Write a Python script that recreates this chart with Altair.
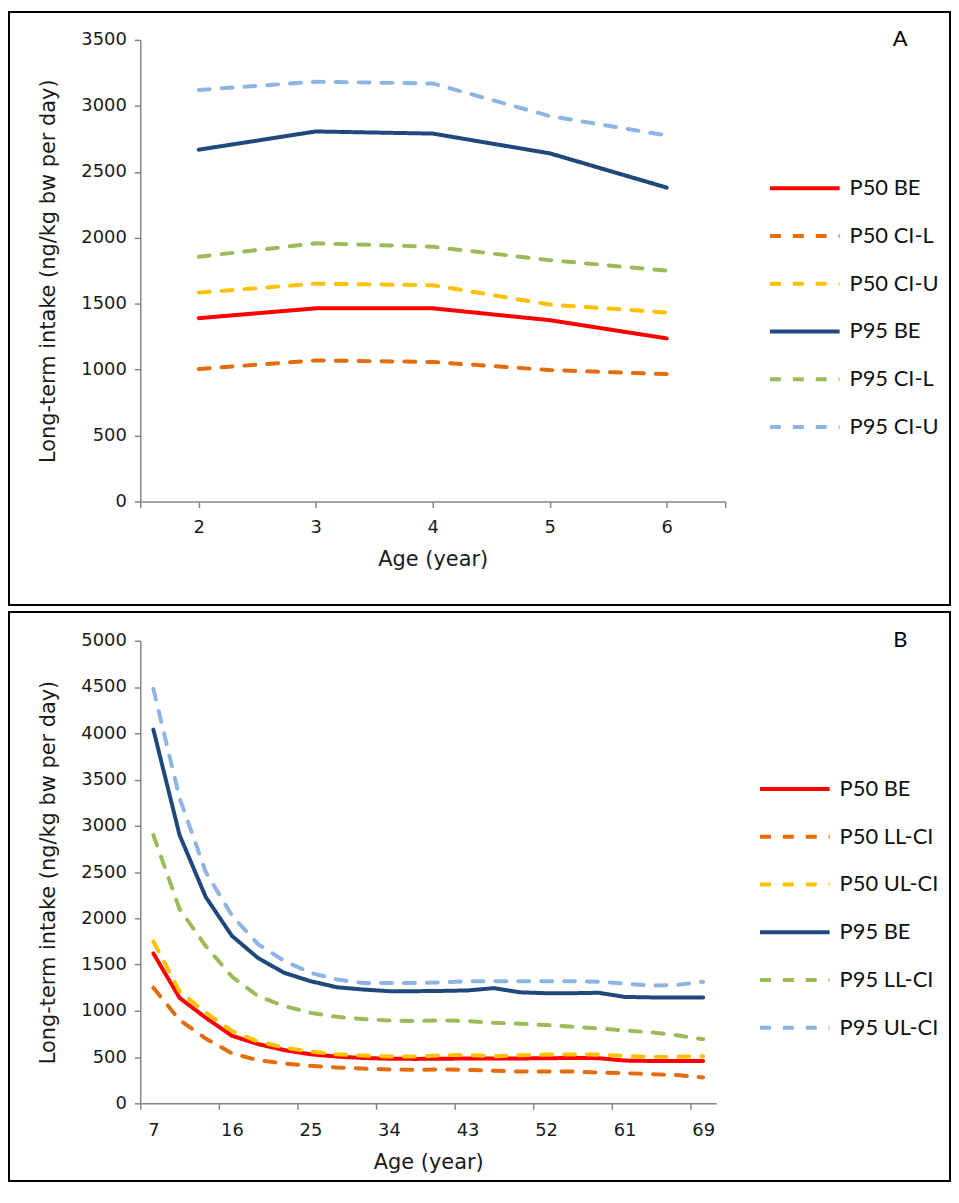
import altair as alt
import pandas as pd

# ---------------- Panel A data (ages 2-6) ----------------
ages_a = [2, 3, 4, 5, 6]
series_a = ["P50 BE", "P50 CI-L", "P50 CI-U", "P95 BE", "P95 CI-L", "P95 CI-U"]
p50_be_a = [1390, 1465, 1465, 1375, 1237]
p50_cil_a = [1005, 1070, 1058, 997, 966]
p50_ciu_a = [1584, 1652, 1640, 1494, 1433]
p95_be_a = [2668, 2806, 2790, 2640, 2380]
p95_cil_a = [1856, 1958, 1932, 1830, 1751]
p95_ciu_a = [3121, 3183, 3170, 2923, 2776]
y_ticks_a = [0, 500, 1000, 1500, 2000, 2500, 3000, 3500]
x_ticks_a = [1.5, 2, 3, 4, 5, 6, 6.5]

# ---------------- Panel B data (ages 7-69) ----------------
ages_b = [7, 10, 13, 16, 19, 22, 25, 28, 31, 34, 37, 40, 43, 46, 49, 52, 55, 58, 61, 64, 67, 69]
series_b = ["P50 BE", "P50 LL-CI", "P50 UL-CI", "P95 BE", "P95 LL-CI", "P95 UL-CI"]
p50_be_b = [1620, 1140, 925, 730, 640, 575, 530, 505, 490, 482, 480, 482, 484, 485, 485, 487, 490, 488, 462, 458, 458, 458]
p50_ll_b = [1250, 900, 700, 540, 466, 430, 405, 387, 376, 366, 362, 366, 362, 351, 344, 344, 344, 333, 326, 315, 305, 280]
p50_ul_b = [1750, 1210, 980, 782, 667, 602, 559, 530, 516, 505, 505, 520, 523, 509, 520, 527, 527, 527, 512, 502, 502, 509]
p95_be_b = [4040, 2900, 2230, 1810, 1570, 1410, 1320, 1255, 1230, 1212, 1212, 1215, 1220, 1245, 1200, 1190, 1190, 1195, 1150, 1145, 1145, 1145]
p95_ll_b = [2900, 2100, 1700, 1370, 1158, 1051, 979, 935, 911, 896, 889, 896, 889, 871, 860, 846, 828, 810, 788, 767, 735, 692]
p95_ul_b = [4480, 3300, 2500, 2030, 1720, 1540, 1410, 1340, 1300, 1300, 1300, 1308, 1319, 1319, 1319, 1319, 1319, 1315, 1294, 1272, 1280, 1315]
y_ticks_b = [0, 500, 1000, 1500, 2000, 2500, 3000, 3500, 4000, 4500, 5000]
label_every_b = 3

# ---------------- styles ----------------
colors = ["#FF0000", "#E46C0A", "#FFC000", "#1F497D", "#9BBB59", "#8DB4E2"]
dashes = [[1, 0], [11, 12], [11, 12], [1, 0], [11, 12], [11, 12]]
GRAY = "#868686"
TXT = "#1a1a1a"
AX_FONT = "DejaVu Sans"
LEG_FONT = "Lato"


def long_df(xs, ages, series, values):
    rows = []
    for name, vals in zip(series, values):
        for x, a, v in zip(xs, ages, vals):
            rows.append({"x": x, "age": a, "series": name, "value": v})
    return pd.DataFrame(rows)


df_a = long_df(ages_a, ages_a, series_a,
               [p50_be_a, p50_cil_a, p50_ciu_a, p95_be_a, p95_cil_a, p95_ciu_a])
idx_b = list(range(len(ages_b)))
df_b = long_df(idx_b, ages_b, series_b,
               [p50_be_b, p50_ll_b, p50_ul_b, p95_be_b, p95_ll_b, p95_ul_b])


def axis_common():
    return dict(grid=False, domainColor=GRAY, tickColor=GRAY, tickSize=6,
                domainWidth=1.5, tickWidth=1.5,
                labelFont=AX_FONT, labelFontSize=18, labelColor=TXT,
                titleFont=AX_FONT, titleFontSize=21, titleColor=TXT,
                titleFontWeight="normal", labelOverlap=False, labelFlush=False)


def legend(lx, ly):
    return alt.Legend(orient="none", legendX=lx, legendY=ly, title=None,
                      symbolType="stroke", symbolSize=4900, symbolStrokeWidth=4,
                      labelFont=LEG_FONT, labelFontSize=22, labelColor="#111",
                      labelOffset=8, rowPadding=-22, padding=0)


def panel(df, series, xscale, xaxis, ydomain, yvalues, yrange, W, H, lx, ly, letter, lpos):
    leg = legend(lx, ly)
    chart = alt.Chart(df).mark_line(strokeWidth=4, strokeCap="round", strokeJoin="round").encode(
        x=alt.X("x:Q", scale=xscale, axis=xaxis),
        y=alt.Y("value:Q",
                scale=alt.Scale(domain=ydomain, range=yrange, nice=False, zero=False),
                axis=alt.Axis(values=yvalues, format="d", offset=-132, labelPadding=8,
                              title="Long-term intake (ng/kg bw per day)", titlePadding=22,
                              **axis_common())),
        color=alt.Color("series:N", scale=alt.Scale(domain=series, range=colors),
                        sort=series, legend=leg),
        strokeDash=alt.StrokeDash("series:N", scale=alt.Scale(domain=series, range=dashes),
                                  sort=series, legend=leg),
        detail="series:N",
    ).properties(
        width=W, height=H,
        title=alt.TitleParams(letter, anchor="start", frame="group", orient="top",
                              align="center", baseline="middle", dx=lpos[0], offset=-lpos[1],
                              font=LEG_FONT, fontSize=22, fontWeight="normal", color="#000"),
    )
    return chart


W = 946
H_A = 596
H_B = 572

xaxis_a = alt.Axis(values=x_ticks_a, labelExpr="datum.value % 1 === 0 ? datum.label : ''",
                   offset=492 - H_A, labelPadding=11, title="Age (year)", titlePadding=12,
                   **axis_common())
chart_a = panel(df_a, series_a,
                alt.Scale(domain=[1.5, 6.5], range=[132, 720], nice=False, zero=False),
                xaxis_a, [0, 3500], y_ticks_a, [492, 28], W, H_A,
                763, 140, "A", (896, 49))

lab_idx = list(range(0, len(ages_b), label_every_b))
tick_vals_b = sorted([i - 0.5 for i in lab_idx] + lab_idx)
age_arr = "[" + ",".join(str(a) for a in ages_b) + "]"
xaxis_b = alt.Axis(values=tick_vals_b,
                   labelExpr=f"datum.value % 1 === 0 ? {age_arr}[datum.value] : ''",
                   tickOpacity={"condition": {"test": "datum.value % 1 === 0", "value": 0}, "value": 1},
                   offset=494 - H_B, labelPadding=12, title="Age (year)", titlePadding=13,
                   **axis_common())
chart_b = panel(df_b, series_b,
                alt.Scale(domain=[-0.5, len(ages_b) - 0.5], range=[132, 711], nice=False, zero=False),
                xaxis_b, [0, 5000], y_ticks_b, [494, 29], W, H_B,
                753, 141, "B", (896, 50))

chart = alt.vconcat(chart_a, chart_b, spacing=5).resolve_scale(
    color="independent", strokeDash="independent", x="independent", y="independent"
).properties(
    padding={"left": 0, "top": 0, "right": 0, "bottom": 0}
).configure_view(stroke="black", strokeWidth=2)

chart.save("out.html", embed_options={"renderer": "svg", "actions": False})
